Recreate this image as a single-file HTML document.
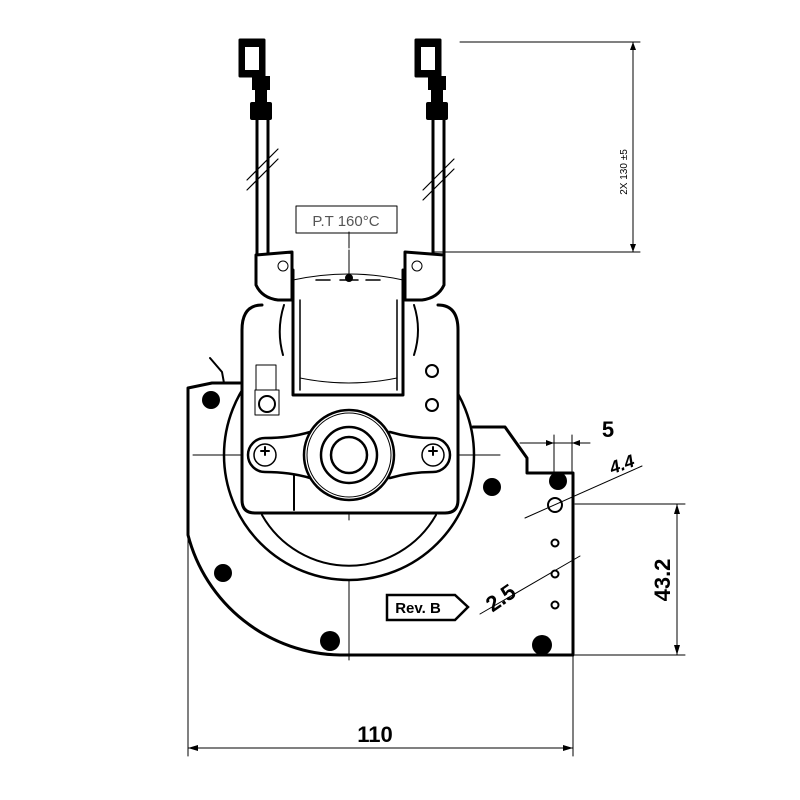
<!DOCTYPE html>
<html><head><meta charset="utf-8"><style>html,body{margin:0;padding:0;background:#fff}svg{display:block}</style></head>
<body>
<svg width="800" height="800" viewBox="0 0 800 800" xmlns="http://www.w3.org/2000/svg" font-family="Liberation Sans, sans-serif">
<rect width="800" height="800" fill="#fff"/>
<g fill="none" stroke="#000" stroke-linecap="round" stroke-linejoin="round">
<!-- Dimensions -->
<g stroke-width="1">
<line x1="460" y1="42" x2="640" y2="42"/>
<line x1="432" y1="252" x2="640" y2="252"/>
<line x1="633" y1="42" x2="633" y2="252"/>
<line x1="188" y1="535" x2="188" y2="756"/>
<line x1="573" y1="655" x2="573" y2="756"/>
<line x1="188" y1="748" x2="573" y2="748"/>
<line x1="575" y1="504" x2="685" y2="504"/>
<line x1="575" y1="655" x2="685" y2="655"/>
<line x1="677" y1="504" x2="677" y2="655"/>
<line x1="554" y1="435" x2="554" y2="475"/>
<line x1="572" y1="435" x2="572" y2="475"/>
<line x1="520" y1="443" x2="590" y2="443"/>
<line x1="525" y1="518" x2="642" y2="466"/>
<line x1="480" y1="614" x2="580" y2="556"/>
<!-- center lines -->
<line x1="193" y1="455" x2="500" y2="455"/>
<line x1="349" y1="330" x2="349" y2="520"/>
<line x1="349" y1="580" x2="349" y2="660"/>
<line x1="349" y1="250" x2="349" y2="275"/>
<line x1="349" y1="232" x2="349" y2="248"/>
</g>
<g fill="#000" stroke="none">
<polygon points="188,748 198,745 198,751"/><polygon points="573,748 563,745 563,751"/>
<polygon points="677,504 674,514 680,514"/><polygon points="677,655 674,645 680,645"/>
<polygon points="633,42 630,50 636,50"/><polygon points="633,252 630,244 636,244"/>
<polygon points="554,443 546,440 546,446"/><polygon points="572,443 580,440 580,446"/>
</g>
<!-- Terminals & wires -->
<g stroke-width="3">
<rect x="240" y="40" width="24" height="36" fill="#000"/>
<rect x="416" y="40" width="24" height="36" fill="#000"/>
</g>
<rect x="245" y="47" width="14" height="23" fill="#fff" stroke="none"/>
<rect x="421" y="47" width="14" height="23" fill="#fff" stroke="none"/>
<rect x="252" y="76" width="18" height="14" fill="#000" stroke="none"/>
<rect x="250" y="102" width="22" height="18" fill="#000" stroke="none" rx="2"/>
<rect x="255" y="88" width="12" height="16" fill="#000" stroke="none"/>
<rect x="428" y="76" width="18" height="14" fill="#000" stroke="none"/>
<rect x="426" y="102" width="22" height="18" fill="#000" stroke="none" rx="2"/>
<rect x="431" y="88" width="12" height="16" fill="#000" stroke="none"/>
<g stroke-width="3">
<line x1="257" y1="120" x2="257" y2="255"/><line x1="268" y1="120" x2="268" y2="255"/>
<line x1="433" y1="120" x2="433" y2="255"/><line x1="444" y1="120" x2="444" y2="255"/>
</g>
<g stroke-width="1.2">
<line x1="247" y1="180" x2="278" y2="149"/><line x1="247" y1="190" x2="278" y2="159"/>
<line x1="423" y1="190" x2="454" y2="159"/><line x1="423" y1="200" x2="454" y2="169"/>
</g>
<rect x="296" y="206" width="101" height="27" stroke-width="1"/>
<!-- lugs -->
<g stroke-width="3">
<path d="M256,255 L256,285 Q262,298 278,300 L292,300 L292,252 Z" fill="#fff"/>
<path d="M444,255 L444,285 Q438,298 422,300 L405,300 L405,252 Z" fill="#fff"/>
</g>
<circle cx="283" cy="266" r="5" stroke-width="1"/><circle cx="417" cy="266" r="5" stroke-width="1"/>
<!-- scroll housing -->
<path d="M212,383 L240,383 M188,388 L212,383 M188,388 L188,535 A160,160 0 0 0 340,655 L573,655 L573,473 L527,473 L527,458 L505,427 L473,427" stroke-width="3"/>
<path d="M210,358 L222,372 L224,383" stroke-width="2"/>
<circle cx="349" cy="455" r="125" stroke-width="2.5"/>
<path d="M262,515 A100,100 0 0 0 436,515" stroke-width="2"/>
<!-- motor frame -->
<path d="M262,305 Q242,305 242,330 L242,500 Q242,513 255,513 L445,513 Q458,513 458,500 L458,330 Q458,305 438,305" stroke-width="3" fill="#fff"/>
<path d="M293,270 L293,395 L403,395 L403,270" stroke-width="3"/>
<path d="M300,300 L300,390 M397,300 L397,390" stroke-width="1.5"/>
<path d="M293,280 Q349,268 403,280 M300,378 Q349,388 397,378" stroke-width="1"/>
<path d="M316,280 h14 M340,280 h18 M366,280 h14" stroke-width="1.5"/>
<circle cx="349" cy="278" r="4" fill="#000" stroke="none"/>
<path d="M284,305 Q276,330 283,355 M414,305 Q422,330 414,355" stroke-width="2"/>
<line x1="294" y1="510" x2="294" y2="475" stroke-width="2"/>
<!-- bracket -->
<path d="M265,438 Q290,438 310,432 L390,432 Q410,438 433,438 A17,17 0 0 1 433,472 Q410,472 390,478 L310,478 Q290,472 265,472 A17,17 0 0 1 265,438 Z" stroke-width="2.5" fill="#fff"/>
<circle cx="349" cy="455" r="45" stroke-width="2.5" fill="#fff"/>
<circle cx="349" cy="455" r="42" stroke-width="1"/>
<circle cx="349" cy="455" r="28" stroke-width="2.5"/>
<circle cx="349" cy="455" r="18" stroke-width="2.5"/>
<circle cx="265" cy="455" r="11" stroke-width="1.5"/><circle cx="433" cy="455" r="11" stroke-width="1.5"/>
<path d="M261,451h8M265,447v8M429,451h8M433,447v8" stroke-width="2"/>
<!-- screws -->
<g stroke-width="2">
<circle cx="267" cy="404" r="8"/><circle cx="432" cy="371" r="6"/><circle cx="432" cy="405" r="6"/>
<circle cx="555" cy="505" r="7"/>
<circle cx="555" cy="543" r="3.5"/><circle cx="555" cy="574" r="3.5"/><circle cx="555" cy="605" r="3.5"/>
</g>
<rect x="256" y="365" width="20" height="25" stroke-width="1"/>
<rect x="255" y="390" width="24" height="25" stroke-width="1"/>
</g>
<g fill="#000">
<circle cx="211" cy="400" r="9"/><circle cx="223" cy="573" r="9"/><circle cx="330" cy="641" r="10"/>
<circle cx="542" cy="645" r="10"/><circle cx="492" cy="487" r="9"/><circle cx="558" cy="481" r="9"/>
</g>
<g font-family="Liberation Sans, sans-serif">
<text x="346" y="226" font-size="15" text-anchor="middle" fill="#555">P.T 160°C</text>
<text x="375" y="742" font-size="22" font-weight="bold" text-anchor="middle">110</text>
<text x="608" y="437" font-size="22" font-weight="bold" text-anchor="middle">5</text>
<text transform="translate(624,470) rotate(-20)" font-size="18" font-weight="bold" font-style="italic" text-anchor="middle">4.4</text>
<text transform="translate(670,580) rotate(-90)" font-size="22" font-weight="bold" text-anchor="middle">43.2</text>
<text transform="translate(505,604) rotate(-35)" font-size="22" font-weight="bold" text-anchor="middle">2.5</text>
<text transform="translate(627,172) rotate(-90)" font-size="10" text-anchor="middle">2X 130 ±5</text>
</g>
<path d="M387,595 L455,595 L468,607 L455,620 L387,620 Z" fill="#fff" stroke="#000" stroke-width="2.5"/>
<text x="418" y="613" font-size="15" font-weight="bold" text-anchor="middle" font-family="Liberation Sans, sans-serif">Rev. B</text>
</svg>
</body></html>
